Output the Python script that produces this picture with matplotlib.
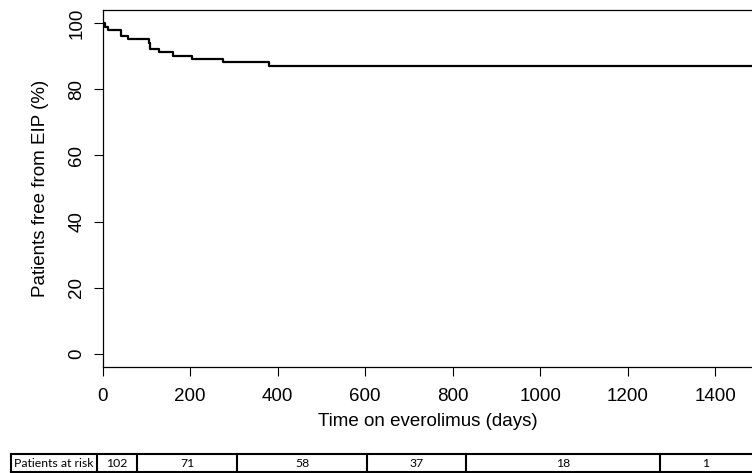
import matplotlib.pyplot as plt

# Kaplan-Meier steps
days = [0, 5, 11, 41, 57, 105, 109, 129, 161, 205, 276, 381, 1500]
free_pct = [100, 99.0, 98.0, 96.1, 95.1, 94.1, 92.2, 91.2, 90.2, 89.2, 88.2, 87.2, 87.2]

xticks = [0, 200, 400, 600, 800, 1000, 1200, 1400]
yticks = [0, 20, 40, 60, 80, 100]

# numbers at risk row
risk_label = 'Patients at risk'
at_risk = ['102', '71', '58', '37', '18', '1']

plt.rcParams['font.family'] = ['Liberation Sans', 'DejaVu Sans']

fig = plt.figure(figsize=(7.52, 4.73), dpi=100)
W, H = 752, 473

ax = fig.add_axes([102.7 / W, (H - 366.7) / H, (W - 102.7) / W, (366.7 - 10) / H])
ax.step(days, free_pct, where='post', color='black', lw=1.6)
ax.set_xlim(0, 1484)
ax.set_ylim(-3.9, 104)
ax.set_xticks(xticks)
ax.set_yticks(yticks)
ax.tick_params(axis='both', direction='out', length=6.5, width=0.8, labelsize=13.5, pad=8.5)
ax.tick_params(axis='y', pad=6)
for lab in ax.get_yticklabels():
    lab.set_rotation(90)
    lab.set_va('center')
ax.spines['right'].set_visible(False)
for s in ['left', 'top', 'bottom']:
    ax.spines[s].set_linewidth(0.9)
ax.set_xlabel('Time on everolimus (days)', fontsize=13.5, labelpad=6)
ax.set_ylabel('Patients free from EIP (%)', fontsize=13.5, labelpad=14)

# at-risk table drawn in pixel units
bounds = [11, 97, 137, 237, 367, 466, 660, 760]
tax = fig.add_axes([0, 0, 1, 1])
tax.set_xlim(0, W)
tax.set_ylim(H, 0)
tax.axis('off')
top, bot = 453.5, 471.5
tax.plot([bounds[0], bounds[-1]], [top, top], color='black', lw=1.5)
tax.plot([bounds[0], bounds[-1]], [bot, bot], color='black', lw=1.5)
for b in bounds[:-1]:
    tax.plot([b, b], [top, bot], color='black', lw=1.5)
labels = [risk_label] + at_risk
for i, txt in enumerate(labels):
    cx = (bounds[i] + bounds[i + 1]) / 2
    if i == len(labels) - 1:
        cx = (bounds[i] + 752) / 2
    tax.text(cx, (top + bot) / 2 + 0.5, txt, ha='center', va='center',
             fontsize=8.8, family=['Lato', 'DejaVu Sans'])

fig.savefig('out.png', dpi=100)
